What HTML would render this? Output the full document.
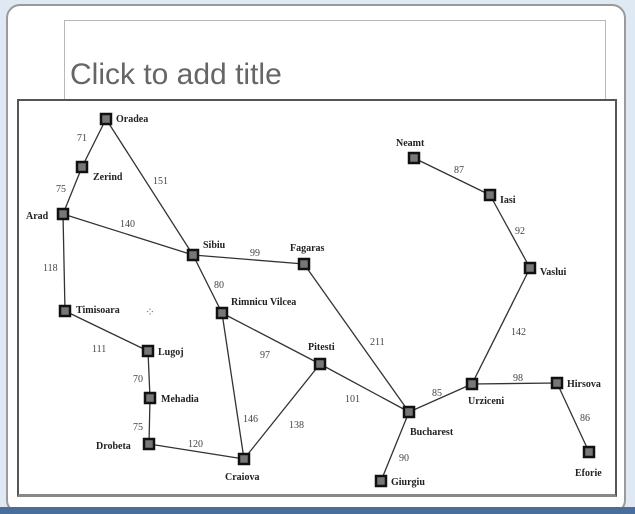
<!DOCTYPE html><html><head><style>
body{margin:0;width:635px;height:514px;background:#dfe9f3;position:relative;overflow:hidden;font-family:"Liberation Serif",serif}
.slide{position:absolute;left:6px;top:4px;width:620px;height:510px;background:#fff;border:2px solid #9a9a9a;border-radius:14px;box-sizing:border-box}
.tbox{position:absolute;left:64px;top:20px;width:540px;height:90px;border:1px solid #b8b8b8;border-bottom:none}
.title{position:absolute;left:70px;top:58px;font:30px "Liberation Sans",sans-serif;color:#666}
.map{position:absolute;left:17px;top:99px;width:600px;height:398px;background:#fff;border:2px solid #555;border-bottom:3px solid #888;box-sizing:border-box}
.bar{position:absolute;left:0;top:507px;width:635px;height:7px;background:#4a6e9c}
</style></head><body>
<div class="slide"></div>
<div class="tbox"></div>
<div class="title">Click to add title</div>
<div class="map"></div>
<svg style="position:absolute;left:0;top:0" width="635" height="514" font-family="Liberation Serif" font-size="10" fill="#222">
<g stroke="#333" stroke-width="1.3">
<line x1="106" y1="119" x2="82" y2="167"/><line x1="82" y1="167" x2="63" y2="214"/>
<line x1="106" y1="119" x2="193" y2="255"/><line x1="63" y1="214" x2="193" y2="255"/>
<line x1="63" y1="214" x2="65" y2="311"/><line x1="193" y1="255" x2="304" y2="264"/>
<line x1="193" y1="255" x2="222" y2="313"/><line x1="65" y1="311" x2="148" y2="351"/>
<line x1="148" y1="351" x2="150" y2="398"/><line x1="150" y1="398" x2="149" y2="444"/>
<line x1="149" y1="444" x2="244" y2="459"/><line x1="222" y1="313" x2="244" y2="459"/>
<line x1="222" y1="313" x2="320" y2="364"/><line x1="244" y1="459" x2="320" y2="364"/>
<line x1="304" y1="264" x2="409" y2="412"/><line x1="320" y1="364" x2="409" y2="412"/>
<line x1="409" y1="412" x2="381" y2="481"/><line x1="409" y1="412" x2="472" y2="384"/>
<line x1="472" y1="384" x2="557" y2="383"/><line x1="557" y1="383" x2="589" y2="452"/>
<line x1="472" y1="384" x2="530" y2="268"/><line x1="530" y1="268" x2="490" y2="195"/>
<line x1="490" y1="195" x2="414" y2="158"/>
</g>
<g fill="#777" stroke="#111" stroke-width="2.5">
<rect x="101" y="114" width="10" height="10"/><rect x="77" y="162" width="10" height="10"/><rect x="58" y="209" width="10" height="10"/>
<rect x="188" y="250" width="10" height="10"/><rect x="299" y="259" width="10" height="10"/><rect x="60" y="306" width="10" height="10"/>
<rect x="217" y="308" width="10" height="10"/><rect x="143" y="346" width="10" height="10"/><rect x="145" y="393" width="10" height="10"/>
<rect x="144" y="439" width="10" height="10"/><rect x="239" y="454" width="10" height="10"/><rect x="315" y="359" width="10" height="10"/>
<rect x="404" y="407" width="10" height="10"/><rect x="376" y="476" width="10" height="10"/><rect x="409" y="153" width="10" height="10"/>
<rect x="485" y="190" width="10" height="10"/><rect x="525" y="263" width="10" height="10"/><rect x="467" y="379" width="10" height="10"/>
<rect x="552" y="378" width="10" height="10"/><rect x="584" y="447" width="10" height="10"/>
</g>
<g font-weight="bold">
<text x="116" y="122">Oradea</text><text x="93" y="180">Zerind</text><text x="26" y="219">Arad</text>
<text x="203" y="248">Sibiu</text><text x="290" y="251">Fagaras</text><text x="76" y="313">Timisoara</text>
<text x="231" y="305">Rimnicu Vilcea</text><text x="158" y="355">Lugoj</text><text x="161" y="402">Mehadia</text>
<text x="96" y="449">Drobeta</text><text x="225" y="480">Craiova</text><text x="308" y="350">Pitesti</text>
<text x="410" y="435">Bucharest</text><text x="391" y="485">Giurgiu</text><text x="396" y="146">Neamt</text>
<text x="500" y="203">Iasi</text><text x="540" y="275">Vaslui</text><text x="468" y="404">Urziceni</text>
<text x="567" y="387">Hirsova</text><text x="575" y="476">Eforie</text>
</g>
<g fill="#444">
<text x="77" y="141">71</text><text x="56" y="192">75</text><text x="153" y="184">151</text><text x="120" y="227">140</text>
<text x="43" y="271">118</text><text x="250" y="256">99</text><text x="214" y="288">80</text><text x="92" y="352">111</text>
<text x="133" y="382">70</text><text x="133" y="430">75</text><text x="188" y="447">120</text><text x="260" y="358">97</text>
<text x="243" y="422">146</text><text x="289" y="428">138</text><text x="370" y="345">211</text><text x="345" y="402">101</text>
<text x="399" y="461">90</text><text x="432" y="396">85</text><text x="513" y="381">98</text><text x="580" y="421">86</text>
<text x="511" y="335">142</text><text x="515" y="234">92</text><text x="454" y="173">87</text>
</g>
<text x="145" y="316" font-size="12" fill="#777">⁘</text>
</svg>
<div class="bar"></div>
</body></html>
